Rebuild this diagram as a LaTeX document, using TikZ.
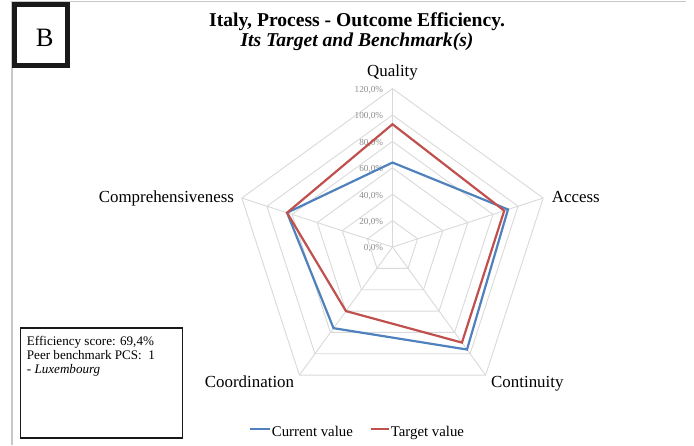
\documentclass[tikz,border=0pt]{standalone}
\usepackage{fontspec}
\setmainfont{Liberation Serif}
\definecolor{curblue}{HTML}{4F81BD}
\definecolor{tgtred}{HTML}{C0504D}
\definecolor{gridgray}{HTML}{D9D9D9}
\definecolor{tickgray}{HTML}{8C8C8C}
\definecolor{framegray}{HTML}{C8C8C8}
\tikzset{
  gridline/.style={draw=gridgray, line width=0.9pt},
  series/.style={line width=2.2pt, line join=miter},
  axislabel/.style={inner sep=0pt, font=\fontsize{16.9}{18}\selectfont},
  ticklabel/.style={inner sep=0pt, anchor=east, text=tickgray, font=\fontsize{9.2}{10}\selectfont},
  legendlabel/.style={inner sep=0pt, anchor=base west, font=\fontsize{14.8}{16}\selectfont},
}
\begin{document}
\begin{tikzpicture}[x=1pt,y=1pt]
    \useasboundingbox (0,0) rectangle (694,-445);
    \pgfmathsetmacro{\unit}{1.32}
    \draw[framegray, line width=1.2pt] (12,-445) -- (12,-1.5) -- (686,-1.5);
    \node[draw=black!90, line width=5.3pt, minimum width=53pt, minimum height=61.2pt, inner sep=0pt] (panelbox) at (40.7,-35.2) {};
    \node[inner sep=0pt, anchor=base, font=\fontsize{26.5}{28}\selectfont] (panel) at (44.7,-46) {B};
    \node[inner sep=0pt, anchor=base, font=\fontsize{19.6}{21}\selectfont\bfseries] (title) at (357,-26.5) {Italy, Process - Outcome Efficiency.};
    \node[inner sep=0pt, anchor=base, font=\fontsize{19.6}{21}\selectfont\bfseries\itshape] (subtitle) at (357,-46.5) {Its Target and Benchmark(s)};
    \coordinate (O) at (392.5,-247);
    \begin{scope}[shift={(O)}]
        \foreach \v [evaluate=\v as \r using \v*\unit] in {20,40,...,120}
            \draw[gridline] (90:\r) -- (18:\r) -- (-54:\r) -- (-126:\r) -- (162:\r) -- cycle;
        \foreach \a in {90,18,-54,-126,162}
            \draw[gridline] (0,0) -- (\a:{120*\unit});
        \foreach \v in {0,20,...,120}
            \node[ticklabel] (tick\v) at (-9.2,{\v*\unit-1.5}) {\v,0\%};
        \foreach \a/\c/\t/\n in {90/64/93/q, 18/92/89/a, -54/96/89.5/n, -126/76/60/d, 162/84/84/c} {
            \coordinate (cur-\n) at (\a:{\c*\unit});
            \coordinate (tgt-\n) at (\a:{\t*\unit});
        }
        \draw[series, curblue] (cur-q) -- (cur-a) -- (cur-n) -- (cur-d) -- (cur-c) -- cycle;
        \draw[series, tgtred] (tgt-q) -- (tgt-a) -- (tgt-n) -- (tgt-d) -- (tgt-c) -- cycle;
        \node[axislabel, anchor=base] (quality) at (0,170.5) {Quality};
        \node[axislabel, anchor=base west] (access) at (159.2,45) {Access};
        \node[axislabel, anchor=base west] (continuity) at (98.5,-140.7) {Continuity};
        \node[axislabel, anchor=base east] (coordination) at (-98.2,-140.7) {Coordination};
        \node[axislabel, anchor=base east] (compr) at (-158.3,45) {Comprehensiveness};
    \end{scope}
    \node[draw=black!90, line width=1.4pt, minimum width=161.7pt, minimum height=110pt, inner sep=0pt, anchor=north west] (infobox) at (20,-327.3) {};
    \node[inner sep=0pt, anchor=north west, align=left, font=\fontsize{13.1}{13.75}\selectfont] (info) at (26.7,-336.5)
        {Efficiency score: 69,4\%\\Peer benchmark PCS:\ \ 1\\\textit{- Luxembourg}};
    \draw[curblue, line width=2.2pt] (250,-429) -- (270,-429) coordinate (curswatch);
    \node[legendlabel] (curleg) at (271.7,-436) {Current value};
    \draw[tgtred, line width=2.2pt] (370.7,-429) -- (389.3,-429) coordinate (tgtswatch);
    \node[legendlabel] (tgtleg) at (390.7,-436) {Target value};
\end{tikzpicture}
\end{document}
